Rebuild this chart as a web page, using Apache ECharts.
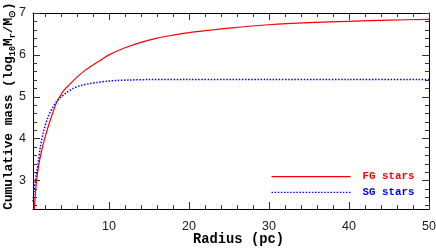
<!DOCTYPE html>
<html><head><meta charset="utf-8">
<script src="https://cdn.jsdelivr.net/npm/echarts@6/dist/echarts.min.js"></script>
<style>html,body{margin:0;padding:0;background:#fff}#c{width:436px;height:248px}</style>
</head><body><div id="c"></div>
<script>
const radiusFG = [0.6, 0.92, 1.2, 1.59, 1.96, 2.5, 3.0, 3.42, 4.3, 5.1, 6, 7, 8, 9, 10, 12, 14, 16, 18, 20, 22.6, 25, 30, 35, 40, 45, 50];
const massFG   = [2.2, 2.95, 3.35, 3.72, 4.0, 4.35, 4.63, 4.85, 5.14, 5.3, 5.47, 5.63, 5.76, 5.88, 6.0, 6.17, 6.3, 6.4, 6.47, 6.53, 6.59, 6.64, 6.72, 6.77, 6.8, 6.83, 6.85];
const radiusSG = [0.5, 0.6, 0.8, 1.09, 1.42, 1.8, 2.34, 3.0, 3.42, 4.05, 4.7, 5.5, 6.5, 7.5, 8.5, 9.7, 11, 12.5, 15, 20, 30, 40, 50];
const massSG   = [2.5, 2.7, 3.0, 3.35, 3.8, 4.15, 4.5, 4.76, 4.88, 5.0, 5.1, 5.2, 5.27, 5.31, 5.34, 5.37, 5.39, 5.40, 5.41, 5.41, 5.41, 5.41, 5.41];
const xMajor = [10, 20, 30, 40, 50];
const xMinor = [2,4,6,8,12,14,16,18,22,24,26,28,32,34,36,38,42,44,46,48];
const yMajor = [3, 4, 5, 6, 7];
const yMinor = [2.4,2.6,2.8,3.2,3.4,3.6,3.8,4.2,4.4,4.6,4.8,5.2,5.4,5.6,5.8,6.2,6.4,6.6,6.8];
const seriesNames = ['FG stars', 'SG stars'];

const X_MIN = 0.5, X_MAX = 50, Y_MIN = 2.32, Y_MAX = 7;
const tickColor = '#333';
function xAx(pos, ticks, len, showLine, showLabel) {
  return {
    type: 'value', position: pos, min: X_MIN, max: X_MAX,
    axisLine: {show: showLine, onZero: false, lineStyle: {color: '#000', width: 1}},
    axisTick: {show: true, inside: true, length: len, customValues: ticks, lineStyle: {color: tickColor, width: 1}},
    axisLabel: {show: showLabel, customValues: ticks, margin: 11, fontFamily: 'Liberation Sans', fontSize: 12.5, color: '#1a1a1a'},
    splitLine: {show: false}
  };
}
function yAx(pos, ticks, len, showLine, showLabel) {
  return {
    type: 'value', position: pos, min: Y_MIN, max: Y_MAX,
    axisLine: {show: showLine, onZero: false, lineStyle: {color: '#000', width: 1}},
    axisTick: {show: true, inside: true, length: len, customValues: ticks, lineStyle: {color: tickColor, width: 1}},
    axisLabel: {show: showLabel, customValues: ticks, margin: 7, fontFamily: 'Liberation Sans', fontSize: 12.5, color: '#1a1a1a'},
    splitLine: {show: false}
  };
}
const chart = echarts.init(document.getElementById('c'), null, {renderer: 'canvas'});
const titleFont = 'Liberation Mono';
chart.setOption({
  animation: false,
  backgroundColor: '#fff',
  grid: {left: 33, top: 13, right: 7, bottom: 39, containLabel: false, outerBoundsMode: 'none'},
  xAxis: [
    xAx('bottom', xMajor, 7, true, true),
    xAx('bottom', xMinor, 4, false, false),
    xAx('top', xMajor, 7, true, false),
    xAx('top', xMinor, 4, false, false)
  ],
  yAxis: [
    yAx('left', yMajor, 7, true, true),
    yAx('left', yMinor, 4, false, false),
    yAx('right', yMajor, 7, true, false),
    yAx('right', yMinor, 4, false, false)
  ],
  legend: {
    left: 271, top: 171, padding: 0, orient: 'vertical', itemWidth: 79, itemHeight: 14, itemGap: 4.6,
    itemStyle: {opacity: 0},
    lineStyle: {width: 1.1},
    textStyle: {fontFamily: titleFont, fontWeight: 'bold', fontSize: 10.8, padding: [0, 0, 0, 7]},
    data: [
      {name: seriesNames[0], textStyle: {color: '#ff0000'}},
      {name: seriesNames[1], textStyle: {color: '#0000ff'}}
    ]
  },
  series: [
    {name: seriesNames[0], type: 'line', xAxisIndex: 0, yAxisIndex: 0, smooth: 0.3, symbol: 'none', showSymbol: false, clip: true,
     data: radiusFG.map((r, i) => [r, massFG[i]]),
     lineStyle: {color: '#ff0000', width: 1.2}, itemStyle: {color: '#ff0000'}},
    {name: seriesNames[1], type: 'line', xAxisIndex: 0, yAxisIndex: 0, smooth: 0.3, symbol: 'none', showSymbol: false, clip: true,
     data: radiusSG.map((r, i) => [r, massSG[i]]),
     lineStyle: {color: '#0000ff', width: 1.5, type: [1.5, 1.6]}, itemStyle: {color: '#0000ff'}}
  ],
  graphic: [
    {type: 'text', x: 238.5, y: 240, style: {text: 'Radius (pc)', fontFamily: titleFont, fontWeight: 'bold', fontSize: 13.8, fill: '#000', align: 'center', verticalAlign: 'middle'}},
    {type: 'text', x: 9, y: 106, rotation: Math.PI / 2,
     style: {
       text: '{m|Cumulative mass (log}{s|10}{m|M}{s|r}{m|/M}{s|⊙}{m|)}',
       align: 'center', verticalAlign: 'middle', fill: '#000',
       rich: {
         m: {fontFamily: titleFont, fontWeight: 'bold', fontSize: 12.8, lineHeight: 16, verticalAlign: 'middle', fill: '#000'},
         s: {fontFamily: titleFont, fontWeight: 'bold', fontSize: 8.5, lineHeight: 9, verticalAlign: 'bottom', fill: '#000'}
       }
     }}
  ]
});
</script></body></html>
